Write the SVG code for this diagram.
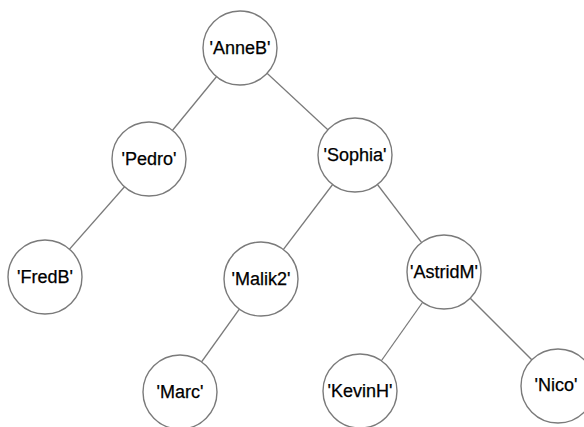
<svg xmlns="http://www.w3.org/2000/svg" width="584" height="427" viewBox="0 0 584 427">
<style>
.edge{stroke:#7a7a7a;stroke-width:1.3;fill:none}
.node circle{fill:#fff;stroke:#7a7a7a;stroke-width:1.4}
.node text{font-family:"Liberation Sans",Arial,sans-serif;font-size:18px;fill:#000;stroke:#000;stroke-width:0.25;text-anchor:middle}
</style>
<rect width="584" height="427" fill="#fff"/>
<g id="connectors">
<line class="edge" x1="240" y1="48" x2="149" y2="159"/>
<line class="edge" x1="240" y1="48" x2="355" y2="155"/>
<line class="edge" x1="149" y1="159" x2="45" y2="277"/>
<line class="edge" x1="355" y1="155" x2="261" y2="279"/>
<line class="edge" x1="355" y1="155" x2="444" y2="272"/>
<line class="edge" x1="261" y1="279" x2="180" y2="392"/>
<line class="edge" x1="444" y1="272" x2="360" y2="391"/>
<line class="edge" x1="444" y1="272" x2="558" y2="386"/>
</g>
<g id="AnneB" class="node"><circle cx="240" cy="48" r="37"/><text x="240" y="54">'AnneB'</text></g>
<g id="Pedro" class="node"><circle cx="149" cy="159" r="37"/><text x="149" y="165">'Pedro'</text></g>
<g id="Sophia" class="node"><circle cx="355" cy="155" r="37"/><text x="355" y="161">'Sophia'</text></g>
<g id="FredB" class="node"><circle cx="45" cy="277" r="37"/><text x="45" y="283">'FredB'</text></g>
<g id="Malik2" class="node"><circle cx="261" cy="279" r="37"/><text x="261" y="285">'Malik2'</text></g>
<g id="AstridM" class="node"><circle cx="444" cy="272" r="37"/><text x="444" y="278">'AstridM'</text></g>
<g id="Marc" class="node"><circle cx="180" cy="392" r="37"/><text x="180" y="398">'Marc'</text></g>
<g id="KevinH" class="node"><circle cx="360" cy="391" r="37"/><text x="360" y="397">'KevinH'</text></g>
<g id="Nico" class="node"><circle cx="558" cy="386" r="37"/><text x="556" y="391">'Nico'</text></g>
</svg>
